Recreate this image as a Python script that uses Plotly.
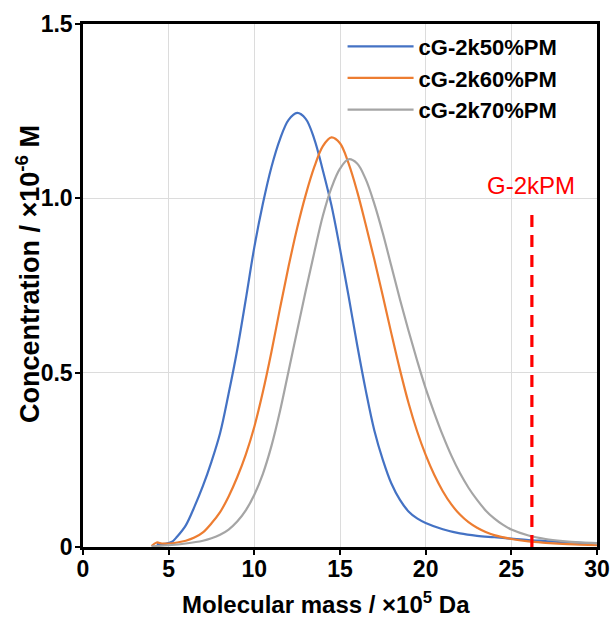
import plotly.graph_objects as go

# Molecular mass distributions (x: ×10^5 Da, y: concentration ×10^-6 M)
mass_50 = [4.3, 4.8, 5.2, 5.5, 6.0, 6.5, 7.0, 7.5, 8.0, 8.5, 9.0, 9.5, 10.0, 10.5,
           11.0, 11.5, 12.0, 12.5, 13.0, 13.5, 14.0, 14.5, 15.0, 15.5, 16.0, 16.5,
           17.0, 17.5, 18.0, 18.5, 19.0, 19.5, 20.0, 21.0, 22.0, 23.0, 24.0, 25.0,
           26.0, 27.0, 28.0, 29.0, 30.0]
conc_50 = [0.008, 0.009, 0.015, 0.030, 0.062, 0.115, 0.175, 0.245, 0.326, 0.44,
           0.565, 0.71, 0.86, 0.985, 1.09, 1.17, 1.225, 1.245, 1.228, 1.17, 1.08,
           0.98, 0.855, 0.72, 0.58, 0.45, 0.335, 0.25, 0.182, 0.135, 0.102, 0.082,
           0.069, 0.051, 0.039, 0.032, 0.028, 0.024, 0.02, 0.017, 0.014, 0.012, 0.01]

mass_60 = [4.0, 4.3, 4.6, 5.0, 5.5, 6.0, 6.5, 7.0, 7.5, 8.0, 8.5, 9.0, 9.5, 10.0,
           10.5, 11.0, 11.5, 12.0, 12.5, 13.0, 13.5, 14.0, 14.5, 15.0, 15.5, 16.0,
           16.5, 17.0, 17.5, 18.0, 18.5, 19.0, 19.5, 20.0, 20.5, 21.0, 21.5, 22.0,
           22.5, 23.0, 23.5, 24.0, 25.0, 26.0, 27.0, 28.0, 29.0, 30.0]
conc_60 = [0.003, 0.013, 0.010, 0.010, 0.013, 0.018, 0.027, 0.042, 0.068, 0.10,
           0.145, 0.20, 0.265, 0.345, 0.445, 0.56, 0.685, 0.805, 0.915, 1.01, 1.09,
           1.15, 1.175, 1.158, 1.10, 1.02, 0.925, 0.825, 0.72, 0.612, 0.508, 0.413,
           0.332, 0.264, 0.207, 0.16, 0.122, 0.093, 0.071, 0.055, 0.043, 0.034,
           0.023, 0.016, 0.012, 0.009, 0.007, 0.005]

mass_70 = [4.0, 5.0, 6.0, 7.0, 7.5, 8.0, 8.5, 9.0, 9.5, 10.0, 10.5, 11.0, 11.5, 12.0,
           12.5, 13.0, 13.5, 14.0, 14.5, 15.0, 15.5, 16.0, 16.5, 17.0, 17.5, 18.0,
           18.5, 19.0, 19.5, 20.0, 20.5, 21.0, 21.5, 22.0, 22.5, 23.0, 23.5, 24.0,
           24.5, 25.0, 26.0, 27.0, 28.0, 29.0, 30.0]
conc_70 = [0.002, 0.005, 0.010, 0.018, 0.025, 0.035, 0.05, 0.073, 0.105, 0.15, 0.21,
           0.29, 0.39, 0.505, 0.62, 0.735, 0.845, 0.95, 1.03, 1.085, 1.112, 1.10,
           1.055, 0.985, 0.90, 0.805, 0.71, 0.62, 0.535, 0.455, 0.385, 0.32, 0.262,
           0.212, 0.17, 0.135, 0.105, 0.082, 0.064, 0.05, 0.033, 0.023, 0.017, 0.013,
           0.011]

series_names = ["cG-2k50%PM", "cG-2k60%PM", "cG-2k70%PM"]
series_colors = ["#4472C4", "#ED7D31", "#A5A5A5"]

# Reference mass of G-2kPM and the height of its marker line
g2k_mass = 26.2
g2k_line_top = 0.96
g2k_label = "G-2kPM"

x_ticks = [0, 5, 10, 15, 20, 25, 30]
y_ticks = [0, 0.5, 1.0, 1.5]
y_tick_text = ["0", "0.5", "1.0", "1.5"]

x_title = "Molecular mass / ×10<sup>5</sup> Da"
y_title = "Concentration / ×10<sup>-6</sup> M"

FONT = "Arial, Liberation Sans, sans-serif"

fig = go.Figure()

for i, (xs, ys) in enumerate([(mass_50, conc_50), (mass_60, conc_60), (mass_70, conc_70)]):
    fig.add_trace(go.Scatter(
        x=xs, y=ys, mode="lines", name=series_names[i],
        line=dict(color=series_colors[i], width=2.2, shape="spline", smoothing=1.0),
    ))

fig.add_trace(go.Scatter(
    x=[g2k_mass, g2k_mass], y=[0, g2k_line_top], mode="lines",
    line=dict(color="#FF0000", width=3.2, dash="12px,8px"),
    showlegend=False, hoverinfo="skip",
))

fig.add_annotation(
    x=26.15, y=1.038, text=g2k_label, showarrow=False,
    font=dict(family=FONT, size=24, color="#FF0000"),
    xanchor="center", yanchor="middle",
)

# Axis titles
fig.add_annotation(
    xref="paper", yref="paper", x=0.472, y=-0.108, text=x_title, showarrow=False,
    font=dict(family=FONT, size=24, color="black", weight="bold"),
    xanchor="center", yanchor="middle",
)
fig.add_annotation(
    xref="paper", yref="paper", x=-0.107, y=0.522, text=y_title, showarrow=False,
    textangle=-90,
    font=dict(family=FONT, size=27, color="black", weight="bold"),
    xanchor="center", yanchor="middle",
)

fig.update_layout(
    width=613, height=621,
    margin=dict(l=83, r=16, t=24, b=74),
    paper_bgcolor="white", plot_bgcolor="white",
    font=dict(family=FONT, color="black"),
    showlegend=True,
    legend=dict(
        x=0.505, y=0.997, xanchor="left", yanchor="top",
        bgcolor="rgba(0,0,0,0)", borderwidth=0,
        font=dict(family=FONT, size=22, color="black", weight="bold"),
        itemwidth=66,
    ),
)

fig.update_xaxes(
    range=[0, 30], tickvals=x_ticks, ticktext=[str(v) for v in x_ticks],
    showgrid=True, gridcolor="#DCDCDC", gridwidth=1,
    showline=True, linecolor="black", linewidth=2.5, mirror=True,
    ticks="outside", ticklen=5, tickwidth=2, tickcolor="black",
    ticklabelstandoff=-5,
    tickfont=dict(family=FONT, size=23, color="black", weight="bold"),
    zeroline=False, automargin=False,
)

fig.update_yaxes(
    range=[0, 1.5], tickvals=y_ticks, ticktext=y_tick_text,
    showgrid=True, gridcolor="#DCDCDC", gridwidth=1,
    showline=True, linecolor="black", linewidth=2.5, mirror=True,
    ticks="outside", ticklen=5, tickwidth=2, tickcolor="black",
    ticklabelstandoff=-2,
    tickfont=dict(family=FONT, size=23, color="black", weight="bold"),
    zeroline=False, automargin=False,
)

fig.write_html("out.html")
